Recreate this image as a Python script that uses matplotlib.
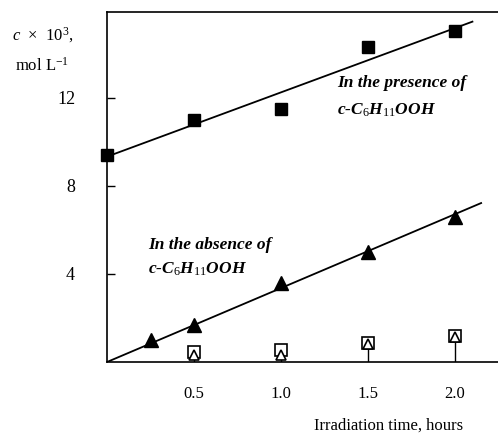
import numpy as np
import matplotlib
matplotlib.use("Agg")
import matplotlib.pyplot as plt

plt.rcParams['font.family'] = ['Liberation Serif', 'DejaVu Serif']
plt.rcParams['mathtext.fontset'] = 'custom'
plt.rcParams['mathtext.rm'] = 'Liberation Serif'
plt.rcParams['mathtext.it'] = 'Liberation Serif:italic'

# hydroperoxide present
t_pres = [0.0, 0.5, 1.0, 1.5, 2.0]
c_pres = [9.4, 11.0, 11.5, 14.3, 15.05]

# hydroperoxide absent
t_abs = [0.25, 0.5, 1.0, 1.5, 2.0]
c_abs = [1.0, 1.7, 3.6, 5.0, 6.6]

# small open-marker series near the baseline
t_low = [0.5, 1.0, 1.5, 2.0]
c_low_sq = [0.45, 0.55, 0.85, 1.2]
c_low_tri = [0.3, 0.3, 0.8, 1.15]

yticks = [4, 8, 12]
xticks = [0.5, 1.0, 1.5, 2.0]
xticklabels = ["0.5", "1.0", "1.5", "2.0"]

fig = plt.figure(figsize=(4.98, 4.38), dpi=100)
ax = fig.add_axes([0.2149, 0.1735, 0.7851, 0.7991])

# straight-line fits
k1, b1 = np.polyfit(t_pres, c_pres, 1)
xf1 = np.array([0.0, 2.10])
ax.plot(xf1, k1 * xf1 + b1, color='black', lw=1.3, zorder=2)

ta = np.array(t_abs)
k2 = np.sum(ta * np.array(c_abs)) / np.sum(ta ** 2)
xf2 = np.array([0.0, 2.15])
ax.plot(xf2, k2 * xf2, color='black', lw=1.3, zorder=2)

ax.plot(t_pres, c_pres, 's', color='black', ms=8, zorder=3, clip_on=False)
ax.plot(t_abs, c_abs, '^', color='black', ms=10, zorder=3, clip_on=False)

# drop lines and open markers
ax.vlines(t_low, 0, c_low_tri, color='black', lw=1.0, zorder=2)
ax.plot(t_low, c_low_sq, 's', mfc='white', mec='black', mew=1.2, ms=8.5,
        ls='none', zorder=3)
ax.plot(t_low, c_low_tri, '^', mfc='white', mec='black', mew=1.2, ms=7,
        ls='none', zorder=4)

ax.set_xlim(0, 2.247)
ax.set_ylim(0, 15.9)
ax.spines['right'].set_visible(False)
for s in ax.spines.values():
    s.set_linewidth(1.2)

ax.set_yticks(yticks)
ax.set_yticklabels([str(v) for v in yticks])
ax.set_xticks(xticks)
ax.set_xticklabels(xticklabels)
ax.tick_params(axis='y', direction='in', length=6, width=1, pad=23,
               labelsize=13)
ax.tick_params(axis='x', length=0, pad=17, labelsize=12)

ax.set_xlabel("Irradiation time, hours", fontsize=12)
ax.xaxis.set_label_coords(0.72, -0.16)

fig.text(12 / 498, 1 - 35 / 438, r"$c$  ×  10$^{3}$,", fontsize=12,
         va='center', ha='left')
fig.text(15 / 498, 1 - 66 / 438, r"mol L$^{-1}$", fontsize=12,
         va='center', ha='left')

ax.text(1.32, 12.5, "In the presence of", fontsize=12.5, style='italic',
        fontweight='bold')
ax.text(1.32, 11.25, r"c-C$_{\mathit{6}}$H$_{\mathit{11}}$OOH", fontsize=12.5,
        style='italic', fontweight='bold')
ax.text(0.235, 5.15, "In the absence of", fontsize=12.5, style='italic',
        fontweight='bold')
ax.text(0.235, 4.0, r"c-C$_{\mathit{6}}$H$_{\mathit{11}}$OOH", fontsize=12.5,
        style='italic', fontweight='bold')

fig.savefig("out.png", dpi=100)
